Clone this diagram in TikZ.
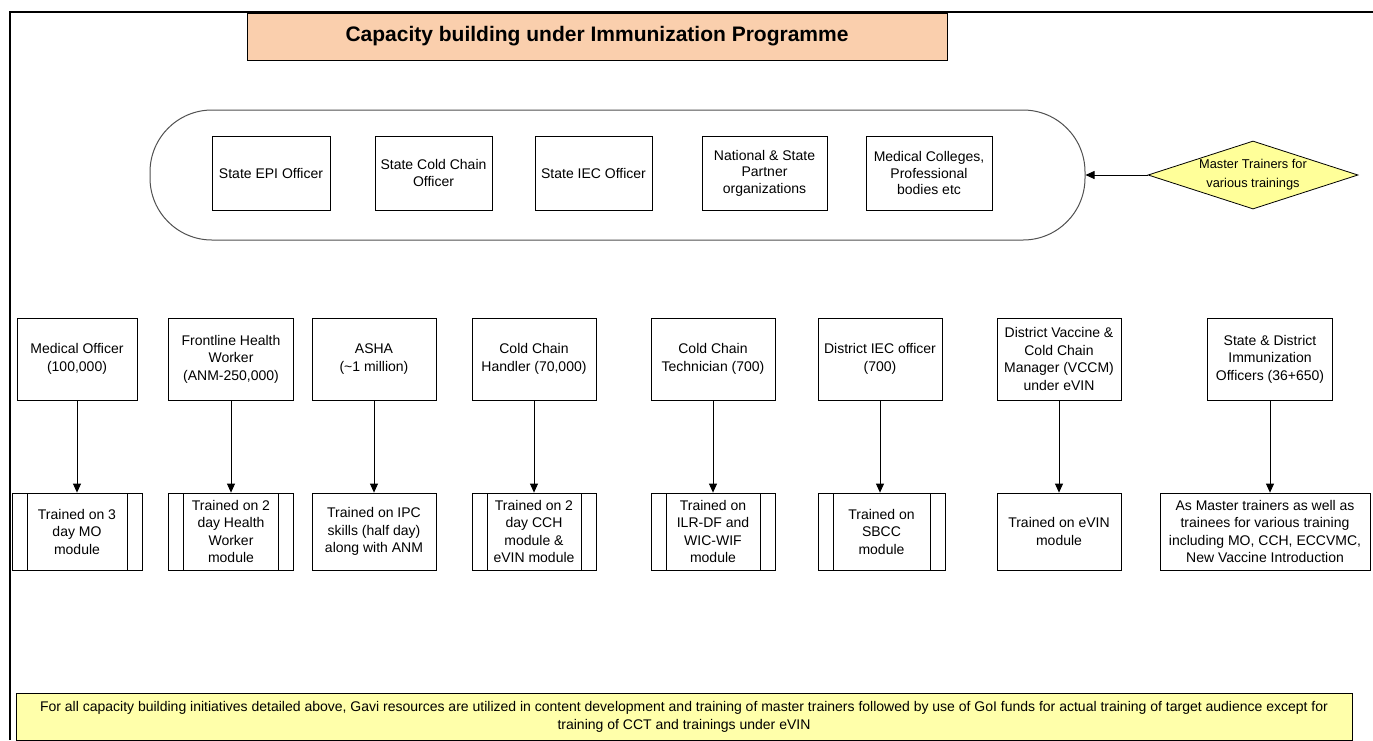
\documentclass[tikz,border=0pt]{standalone}
\usepackage{fontspec}
\setmainfont{Liberation Sans}
\usetikzlibrary{shapes.geometric,arrows.meta}
\definecolor{peach}{RGB}{250,207,173}
\definecolor{dyellow}{RGB}{255,255,153}
\definecolor{fyellow}{RGB}{255,255,170}
\definecolor{grpline}{RGB}{80,80,80}
\begin{document}
\begin{tikzpicture}[x=1pt,y=-1pt,
  box/.style={draw=black, line width=0.8pt, align=center, inner sep=2pt,
    font=\fontsize{14}{17.5}\selectfont},
  topbox/.style={box, minimum height=74pt, font=\fontsize{14}{16.5}\selectfont},
  midbox/.style={box, minimum height=82pt},
  botbox/.style={box, minimum height=77pt},
  procbox/.style={botbox, path picture={
    \draw[line width=0.8pt] ([xshift=15pt]path picture bounding box.north west) -- ([xshift=15pt]path picture bounding box.south west);
    \draw[line width=0.8pt] ([xshift=-15pt]path picture bounding box.north east) -- ([xshift=-15pt]path picture bounding box.south east);}},
  arr/.style={-{Triangle[length=9pt,width=8pt]}, line width=0.8pt}]
\useasboundingbox (0,0) rectangle (1373,740);
% frame
\draw[line width=2pt] (10,740) -- (10,12) -- (1373,12);
% title
\node[draw=black, line width=0.8pt, fill=peach, minimum width=700pt, minimum height=47pt,
  font=\bfseries\fontsize{21}{24}\selectfont] (title) at (597,36.5) {Capacity building under Immunization Programme};
% group stadium
\node[draw=grpline, line width=1pt, rounded corners=62pt, minimum width=935pt, minimum height=130pt] (grp) at (617.5,175) {};
\node[topbox, minimum width=118pt] (t1) at (271,173) {State EPI Officer};
\node[topbox, minimum width=117pt] (t2) at (433.5,173) {State Cold Chain\\Officer};
\node[topbox, minimum width=117pt] (t3) at (593.5,173) {State IEC Officer};
\node[topbox, minimum width=125pt] (t4) at (764.5,173) {National \& State\\Partner\\organizations};
\node[topbox, minimum width=126pt] (t5) at (929,173) {Medical Colleges,\\Professional\\bodies etc};
% diamond
\node[diamond, draw=black, line width=0.8pt, fill=dyellow, minimum width=210pt, minimum height=68pt, inner sep=0pt] (mt) at (1253,175) {};
\node[align=center, font=\fontsize{12.8}{19}\selectfont] (mtt) at (mt.center) {Master Trainers for\\various trainings};
\draw[arr] (mt.west) -- (grp.east);
% middle row
\node[midbox, minimum width=120pt] (m1) at (77,359) {Medical Officer\\(100,000)};
\node[midbox, minimum width=125pt] (m2) at (231,359) {Frontline Health\\Worker\\(ANM-250,000)};
\node[midbox, minimum width=124pt] (m3) at (374,359) {ASHA\\(\textasciitilde1 million)};
\node[midbox, minimum width=124pt] (m4) at (534,359) {Cold Chain\\Handler (70,000)};
\node[midbox, minimum width=124pt] (m5) at (713,359) {Cold Chain\\Technician (700)};
\node[midbox, minimum width=124pt] (m6) at (880,359) {District IEC officer\\(700)};
\node[midbox, minimum width=124pt] (m7) at (1059,359) {District Vaccine \&\\Cold Chain\\Manager (VCCM)\\under eVIN};
\node[midbox, minimum width=125pt] (m8) at (1270,359) {State \& District\\Immunization\\Officers (36+650)};
% bottom row
\node[procbox, minimum width=130pt] (b1) at (77,531.5) {Trained on 3\\day MO\\module};
\node[procbox, minimum width=125pt] (b2) at (231,531.5) {Trained on 2\\day Health\\Worker\\module};
\node[botbox, minimum width=124pt] (b3) at (374,531.5) {Trained on IPC\\skills (half day)\\along with ANM};
\node[procbox, minimum width=124pt] (b4) at (534,531.5) {Trained on 2\\day CCH\\module \&\\eVIN module};
\node[procbox, minimum width=124pt] (b5) at (713,531.5) {Trained on\\ILR-DF and\\WIC-WIF\\module};
\node[procbox, minimum width=127pt] (b6) at (881.5,531.5) {Trained on\\SBCC\\module};
\node[botbox, minimum width=124pt] (b7) at (1059,531.5) {Trained on eVIN\\module};
\node[botbox, minimum width=210pt] (b8) at (1265,531.5) {As Master trainers as well as\\trainees for various training\\including MO, CCH, ECCVMC,\\New Vaccine Introduction};
\foreach \i in {1,...,8} {\draw[arr] (m\i.south) -- (m\i.south |- b\i.north);}
% footer
\node[draw=black, line width=0.8pt, fill=fyellow, minimum width=1336pt, minimum height=47pt, align=center,
  font=\fontsize{14}{18}\selectfont] (foot) at (684,716.5) {For all capacity building initiatives detailed above, Gavi resources are utilized in content development and training of master trainers followed by use of GoI funds for actual training of target audience except for\\training of CCT and trainings under eVIN};
\end{tikzpicture}
\end{document}
